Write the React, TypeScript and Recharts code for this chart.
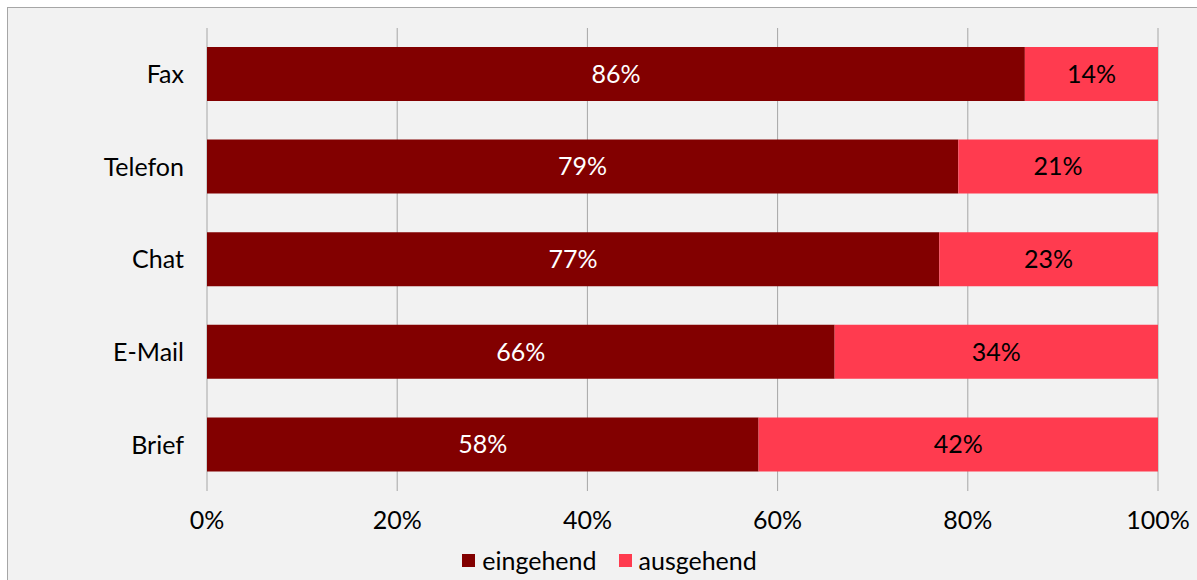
import { BarChart, Bar, XAxis, YAxis, CartesianGrid, Legend, LabelList } from "recharts";

const DARK = "#820000";
const LIGHT = "#ff3b4f";
const GRID = "#a6a6a6";
const FONT = "Lato, 'Open Sans', sans-serif";
const FS = 25;

const CHANNELS = ["Fax", "Telefon", "Chat", "E-Mail", "Brief"];
const INCOMING = [86, 79, 77, 66, 58];
const OUTGOING = [14, 21, 23, 34, 42];
const X_TICKS = [0, 20, 40, 60, 80, 100];

const data = CHANNELS.map((channel, i) => ({
  channel,
  eingehend: INCOMING[i],
  ausgehend: OUTGOING[i],
}));

const pct = (v: any) => `${v}%`;

function LegendBox() {
  const items = [
    { name: "eingehend", color: DARK },
    { name: "ausgehend", color: LIGHT },
  ];
  return (
    <div style={{ display: "flex", justifyContent: "center", fontFamily: FONT, fontSize: FS, color: "#000", lineHeight: "30px" }}>
      {items.map((it) => (
        <div key={it.name} style={{ display: "flex", alignItems: "center", marginRight: 22 }}>
          <span style={{ width: 13, height: 13, background: it.color, display: "inline-block", marginRight: 7 }} />
          <span>{it.name}</span>
        </div>
      ))}
    </div>
  );
}

export default function App() {
  return (
    <div
      style={{
        position: "absolute",
        left: 7,
        top: 7,
        width: 1200,
        height: 590,
        background: "#f2f2f2",
        border: "1px solid #a6a6a6",
        boxSizing: "border-box",
      }}
    >
      <div style={{ position: "absolute", left: -8, top: -8 }}>
        <BarChart
          width={1197}
          height={580}
          data={data}
          layout="vertical"
          margin={{ top: 28, right: 39, left: 0, bottom: 19 }}
          barSize={54}
        >
          <CartesianGrid stroke={GRID} horizontal={false} />
          <XAxis
            type="number"
            domain={[0, 100]}
            ticks={X_TICKS}
            tickFormatter={pct}
            axisLine={false}
            tickLine={false}
            tickMargin={14}
            tick={{ fill: "#000", fontSize: FS, fontFamily: FONT }}
            height={40}
          />
          <YAxis
            type="category"
            dataKey="channel"
            width={207}
            axisLine={false}
            tickLine={false}
            tickMargin={17}
            tick={{ fill: "#000", fontSize: FS, fontFamily: FONT }}
          />
          <Legend
            verticalAlign="bottom"
            content={() => <LegendBox />}
            wrapperStyle={{ left: 22, bottom: 5, width: 1197, height: 30 }}
          />
          <Bar dataKey="eingehend" stackId="a" fill={DARK} isAnimationActive={false}>
            <LabelList
              dataKey="eingehend"
              position="center"
              formatter={pct}
              fill="#fff"
              style={{ fontSize: FS, fontFamily: FONT }}
            />
          </Bar>
          <Bar dataKey="ausgehend" stackId="a" fill={LIGHT} isAnimationActive={false}>
            <LabelList
              dataKey="ausgehend"
              position="center"
              formatter={pct}
              fill="#000"
              style={{ fontSize: FS, fontFamily: FONT }}
            />
          </Bar>
        </BarChart>
      </div>
    </div>
  );
}
